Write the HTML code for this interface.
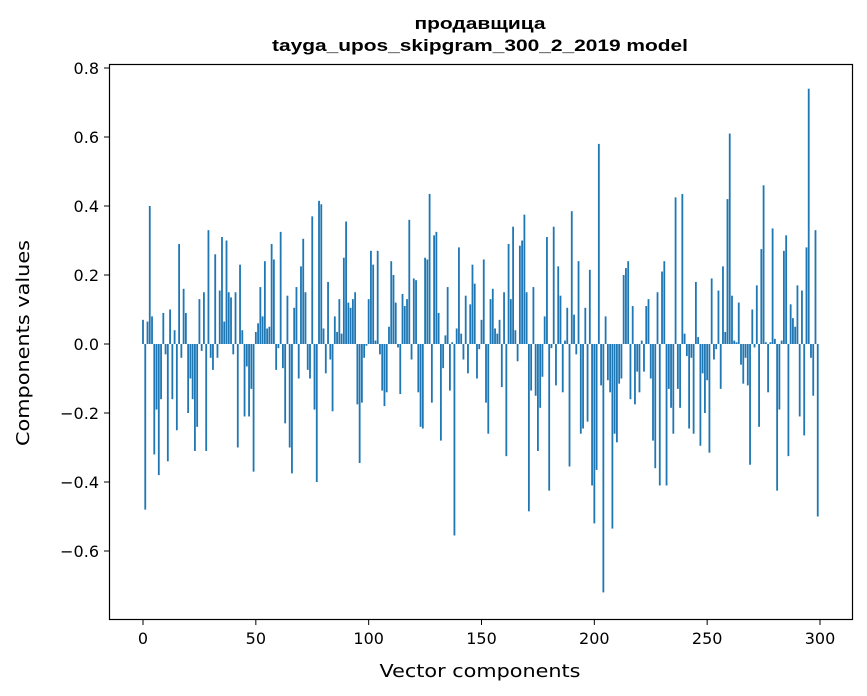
<!DOCTYPE html>
<html><head><meta charset="utf-8"><style>
html,body{margin:0;padding:0;background:#fff;}
svg{display:block;font-family:"DejaVu Sans","Liberation Sans",sans-serif;}
</style></head><body>
<svg id="chart" width="867" height="696" viewBox="0 0 867 696" xmlns="http://www.w3.org/2000/svg">
<rect x="0" y="0" width="867" height="696" fill="#fff"/>
<text x="480" y="29" text-anchor="middle" font-size="17" font-weight="bold" font-family="'Liberation Sans',sans-serif" textLength="131" lengthAdjust="spacingAndGlyphs">продавщица</text>
<text x="480" y="51" text-anchor="middle" font-size="17" font-weight="bold" font-family="'Liberation Sans',sans-serif" textLength="416" lengthAdjust="spacingAndGlyphs">tayga_upos_skipgram_300_2_2019 model</text>
<g id="bars"></g>
<g id="xticks"></g>
<g id="yticks"></g>
<rect x="109.5" y="64.5" width="743" height="555" fill="none" stroke="#000" stroke-width="1.2"/>
<text x="480" y="677" text-anchor="middle" font-size="18" textLength="201" lengthAdjust="spacingAndGlyphs">Vector components</text>
<text transform="translate(29,343) rotate(-90)" text-anchor="middle" font-size="18" textLength="206" lengthAdjust="spacingAndGlyphs">Components values</text>
</svg>
<script>
const values = [
0.07,-0.48,0.065,0.40,0.08,-0.32,-0.19,-0.38,-0.16,0.09,
-0.03,-0.34,0.10,-0.16,0.04,-0.25,0.29,-0.04,0.16,0.09,
-0.20,-0.10,-0.16,-0.31,-0.24,0.13,-0.02,0.15,-0.31,0.33,
-0.04,-0.075,0.26,-0.04,0.155,0.31,0.065,0.30,0.15,0.135,
-0.03,0.15,-0.30,0.23,0.04,-0.21,-0.065,-0.21,-0.13,-0.37,
0.035,0.06,0.165,0.08,0.24,0.045,0.05,0.29,0.245,-0.075,
-0.012,0.325,-0.07,-0.23,0.14,-0.30,-0.375,0.105,0.165,-0.10,
0.225,0.305,0.15,-0.075,-0.10,0.37,-0.19,-0.40,0.415,0.405,
0.045,-0.085,0.18,-0.045,-0.195,0.08,0.035,0.13,0.03,0.25,
0.355,0.12,0.105,0.13,0.15,-0.175,-0.345,-0.17,-0.04,-0.005,
0.13,0.27,0.23,0.01,0.27,-0.03,-0.135,-0.18,-0.14,0.05,
0.24,0.20,0.12,-0.01,-0.145,0.145,0.11,0.13,0.36,-0.045,
0.19,0.185,-0.14,-0.24,-0.245,0.25,0.245,0.435,-0.17,0.315,
0.325,0.09,-0.28,-0.07,0.025,0.165,-0.135,0.005,-0.555,0.045,
0.28,0.03,-0.045,0.14,-0.085,0.115,0.23,0.175,-0.10,-0.015,
0.07,0.245,-0.17,-0.26,0.13,0.16,0.045,0.03,0.07,-0.125,
0.15,-0.325,0.29,0.13,0.34,0.04,-0.05,0.285,0.30,0.375,
0.15,-0.485,-0.135,0.165,-0.15,-0.31,-0.185,-0.095,0.08,0.31,
-0.425,-0.012,0.34,-0.12,0.225,0.14,-0.14,0.01,0.105,-0.355,
0.385,0.085,-0.03,0.24,-0.26,-0.245,0.105,-0.225,0.215,-0.41,
-0.52,-0.365,0.58,-0.12,-0.72,0.08,-0.105,-0.14,-0.535,-0.26,
-0.285,-0.115,-0.10,0.20,0.22,0.24,-0.16,0.11,-0.175,-0.08,
-0.14,0.01,-0.08,0.11,0.13,-0.10,-0.28,-0.36,0.15,-0.41,
0.21,0.24,-0.41,-0.13,-0.185,-0.26,0.425,-0.13,-0.185,0.435,
0.03,-0.035,-0.245,-0.04,-0.26,0.18,0.02,-0.295,-0.085,-0.20,
-0.105,-0.315,0.19,-0.045,-0.015,0.155,-0.13,0.225,0.035,0.42,
0.61,0.14,0.01,0.005,0.12,-0.06,-0.115,-0.04,-0.12,-0.35,
0.10,-0.01,0.17,-0.24,0.275,0.46,0.005,-0.14,0.005,0.335,
0.015,-0.425,-0.19,0.01,0.27,0.315,-0.325,0.115,0.075,0.05,
0.17,-0.21,0.155,-0.265,0.28,0.74,-0.04,-0.15,0.33,-0.50
];
const xTickValues = [0,50,100,150,200,250,300];
const yTickValues = [-0.6,-0.4,-0.2,0.0,0.2,0.4,0.6,0.8];
const yTickLabels = ["\u22120.6","\u22120.4","\u22120.2","0.0","0.2","0.4","0.6","0.8"];

const NS = "http://www.w3.org/2000/svg";
function xScale(i){ return 143 + i*(677/300); }
function yScale(v){ return 344 - v*345; }
const barsG = document.getElementById('bars');
const bw = 0.8*(677/300);
values.forEach(function(v,i){
  const r = document.createElementNS(NS,'rect');
  const y0 = yScale(0), y1 = yScale(v);
  r.setAttribute('x', xScale(i)-bw/2);
  r.setAttribute('y', Math.min(y0,y1));
  r.setAttribute('width', bw);
  r.setAttribute('height', Math.max(Math.abs(y1-y0),0.3));
  r.setAttribute('fill', '#1f77b4');
  
  
  barsG.appendChild(r);
});
const xg = document.getElementById('xticks');
xTickValues.forEach(function(t){
  const x = xScale(t);
  const l = document.createElementNS(NS,'line');
  l.setAttribute('x1',x);l.setAttribute('x2',x);l.setAttribute('y1',620);l.setAttribute('y2',625);
  l.setAttribute('stroke','#000');l.setAttribute('stroke-width','1');
  
  
  xg.appendChild(l);
  const tx = document.createElementNS(NS,'text');
  tx.setAttribute('x',x);tx.setAttribute('y',644);tx.setAttribute('text-anchor','middle');tx.setAttribute('font-size','16');
  tx.textContent = String(t);
  
  
  xg.appendChild(tx);
});
const yg = document.getElementById('yticks');
yTickValues.forEach(function(t,k){
  const y = yScale(t);
  const l = document.createElementNS(NS,'line');
  l.setAttribute('x1',104);l.setAttribute('x2',109);l.setAttribute('y1',y);l.setAttribute('y2',y);
  l.setAttribute('stroke','#000');l.setAttribute('stroke-width','1');
  
  
  yg.appendChild(l);
  const tx = document.createElementNS(NS,'text');
  tx.setAttribute('x',99);tx.setAttribute('y',y+6);tx.setAttribute('text-anchor','end');tx.setAttribute('font-size','16');
  tx.textContent = yTickLabels[k];
  
  
  yg.appendChild(tx);
});
</script>
</body></html>
